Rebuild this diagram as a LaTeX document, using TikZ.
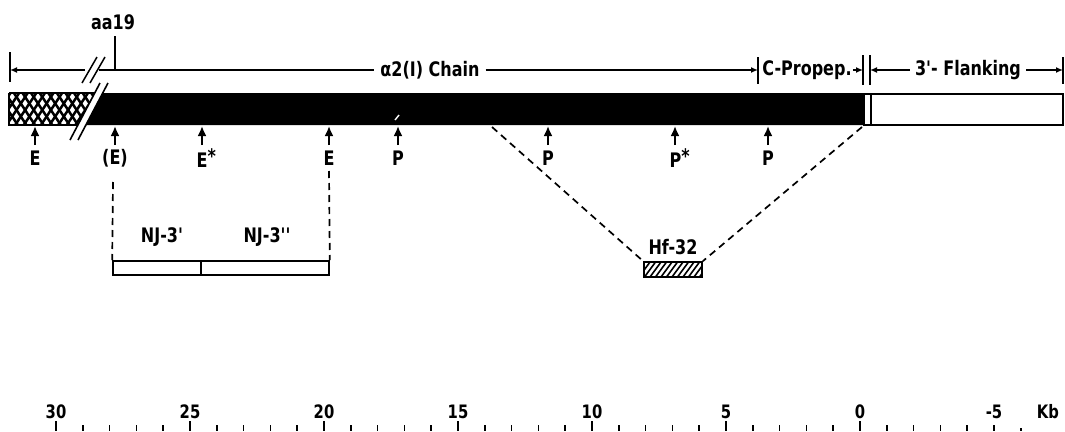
\documentclass[tikz,border=0pt]{standalone}
\usepackage{fontspec}
\setmainfont{DejaVu Sans}
\newfontfamily\lf[FakeStretch=0.8]{DejaVu Sans}
\usetikzlibrary{arrows.meta}
\begin{document}
\begin{tikzpicture}[x=1pt,y=-1pt,
  lab/.style={font=\lf\bfseries\fontsize{20}{22}\selectfont, inner sep=0pt},
  num/.style={font=\lf\bfseries\fontsize{18.5}{20}\selectfont, inner sep=0pt},
  uparrow/.style={-{Latex[length=10pt,width=9pt]}, line width=2.6pt},
  dimline/.style={line width=1.5pt},
  dimtip/.style={-{Latex[length=7pt,width=6pt]}, line width=1.5pt},
  dashline/.style={dash pattern=on 7pt off 5pt, line width=1.7pt},
  boxline/.style={line width=1.6pt}
]
\useasboundingbox[fill=white] (0,0) rectangle (1065,431);

% ---------- top dimension line ----------
\node[lab] (aa) at (113,22) {aa19};
\coordinate (aatop) at (115,36);
\coordinate (aabot) at (115,70);
\draw[dimline] (aatop) -- (aabot);

\coordinate (lbarT) at (10,52);
\coordinate (lbarB) at (10,82);
\draw[dimline] (lbarT) -- (lbarB);
\coordinate (brkL) at (85,70);
\coordinate (lend) at (10,70);
\draw[dimtip] (brkL) -- (lend);
\draw[dimline] (82,83) -- (97,57);
\draw[dimline] (90,83) -- (105,57);

\node[lab] (chain) at (430,70) {α2(I) Chain};
\coordinate (brkR) at (99,70);
\draw[dimline] (brkR) -- ([xshift=-6pt]chain.west);
\coordinate (cpL) at (758,70);
\draw[dimtip] ([xshift=6pt]chain.east) -- (cpL);
\draw[dimline] (758,57) -- (758,84);

\node[lab] (cprop) at (807,70) {C-Propep.};
\coordinate (cpR) at (863,70);
\draw[dimtip] ([xshift=1pt]cprop.east) -- (cpR);
\draw[dimline] (863,55) -- (863,85);
\draw[dimline] (870,55) -- (870,85);

\node[lab] (flank) at (968,70) {3'- Flanking};
\coordinate (flL) at (870,70);
\coordinate (flR) at (1063,70);
\draw[dimtip] ([xshift=-5pt]flank.west) -- (flL);
\draw[dimtip] ([xshift=5pt]flank.east) -- (flR);
\draw[dimline] (1063,57) -- (1063,84);

% ---------- main bar ----------
\begin{scope}
  \clip (9,93) -- (94.7,93) -- (77.9,125) -- (9,125) -- cycle;
  \foreach \i in {-6,...,14} {
    \draw[line width=2.5pt] (\i*8.6,85) -- ++(33,50);
    \draw[line width=2.5pt] (\i*8.6,135) -- ++(33,-50);
  }
\end{scope}
\draw[boxline] (9,93) -- (94.7,93) (77.9,125) -- (9,125) -- (9,93);
\fill (102.7,93) -- (864,93) -- (864,125) -- (85.9,125) -- cycle;
\draw[line width=1.6pt] (70,140) -- (100,83);
\draw[line width=1.6pt] (78,140) -- (108,83);
\draw[white, line width=1.4pt] (395,120) -- (399,115);
\draw[boxline] (864,94) rectangle (1063,125);
\draw[boxline] (871,94) -- (871,125);

% ---------- restriction sites ----------
\foreach \x/\t/\n in {35/E/1, 115/(E)/2, 329/E/4, 398/P/5, 548/P/6, 768/P/8} {
  \node[lab] (s\n) at (\x,158) {\t};
  \coordinate (a\n) at (\x,145);
  \coordinate (b\n) at (\x,126);
  \draw[uparrow] (a\n) -- (b\n);
}
\node[lab, anchor=west] (s3) at (196.5,158) {E\raisebox{4pt}{*}};
\coordinate (a3) at (202,145); \coordinate (b3) at (202,126);
\draw[uparrow] (a3) -- (b3);
\node[lab, anchor=west] (s7) at (669.5,158) {P\raisebox{4pt}{*}};
\coordinate (a7) at (675,145); \coordinate (b7) at (675,126);
\draw[uparrow] (a7) -- (b7);

% ---------- NJ clones ----------
\node[draw, boxline, minimum width=88pt, minimum height=14pt, inner sep=0pt] (nj1) at (157,268) {};
\node[draw, boxline, minimum width=128pt, minimum height=14pt, inner sep=0pt] (nj2) at (265,268) {};
\node[lab] (nj1l) at (162,237) {NJ-3'};
\node[lab] (nj2l) at (267,237) {NJ-3''};
\coordinate (d2) at (113,182);
\coordinate (d4) at (329,171);
\draw[dashline] (d2) -- (nj1.north west);
\draw[dashline] (d4) -- (nj2.north east);

% ---------- Hf-32 ----------
\node[draw, boxline, minimum width=58pt, minimum height=15pt, inner sep=0pt] (hf) at (673,269.5) {};
\begin{scope}
  \clip (644,262) rectangle (702,277);
  \foreach \i in {0,...,14} { \draw[line width=1.6pt] (632+\i*5.5,279) -- ++(14,-19); }
\end{scope}
\node[lab] (hfl) at (673,247) {Hf-32};
\coordinate (hfa) at (492,127);
\coordinate (hfb) at (862,127);
\draw[dashline] (hfa) -- (hf.north west);
\draw[dashline] (hfb) -- (hf.north east);

% ---------- scale ----------
\foreach \k in {30,29,...,-5} {
  \pgfmathsetmacro{\xx}{860-26.8*\k}
  \draw[line width=1.6pt] (\xx,425) -- (\xx,431);
}
\foreach \k in {30,25,20,15,10,5,0} {
  \pgfmathsetmacro{\xx}{860-26.8*\k}
  \node[num] (n\k) at (\xx,412) {\k};
  \draw[line width=1.6pt] (\xx,421) -- (\xx,431);
}
\node[num] (nm5) at (994,412) {-5};
\draw[line width=1.6pt] (1021,428) -- (1021,431);
\node[num] (kb) at (1048,412) {Kb};
\end{tikzpicture}
\end{document}
